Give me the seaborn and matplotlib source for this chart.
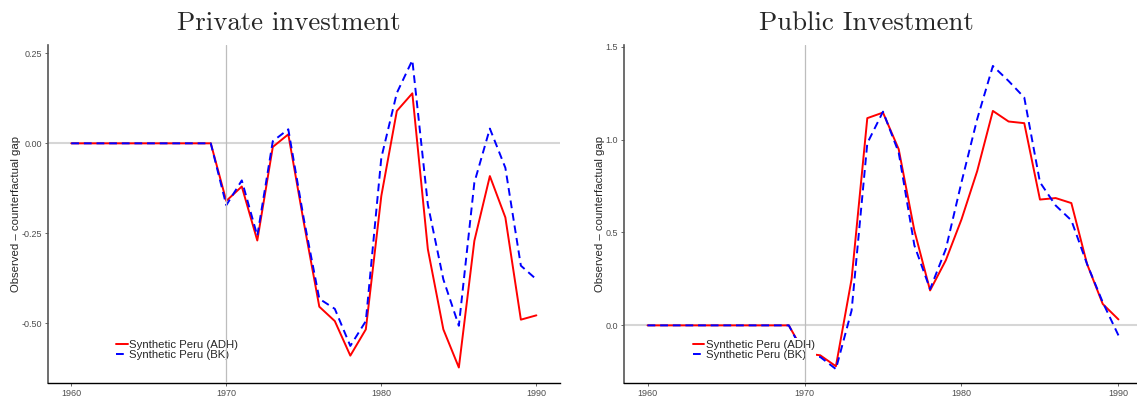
import pandas as pd
import matplotlib
matplotlib.use('Agg')
import matplotlib.pyplot as plt
import seaborn as sns

# years of the gap series
years = list(range(1960, 1991))

# private investment gap (left panel)
priv_adh = [0] * 10 + [-0.16, -0.12, -0.27, -0.01, 0.025, -0.22, -0.454, -0.494, -0.59, -0.517,
                       -0.146, 0.09, 0.139, -0.294, -0.517, -0.623, -0.271, -0.091, -0.206, -0.49, -0.478]
priv_bk = [0] * 10 + [-0.172, -0.103, -0.257, 0.006, 0.039, -0.21, -0.432, -0.46, -0.563, -0.494,
                      -0.04, 0.14, 0.231, -0.17, -0.378, -0.507, -0.109, 0.041, -0.068, -0.34, -0.378]

# public investment gap (right panel)
pub_adh = [0] * 10 + [-0.15, -0.161, -0.22, 0.249, 1.115, 1.145, 0.948, 0.51, 0.188, 0.35,
                      0.57, 0.83, 1.154, 1.097, 1.088, 0.677, 0.685, 0.658, 0.33, 0.115, 0.032]
pub_bk = [0] * 10 + [-0.16, -0.17, -0.235, 0.08, 0.98, 1.15, 0.93, 0.43, 0.195, 0.41,
                     0.77, 1.11, 1.396, 1.315, 1.226, 0.77, 0.645, 0.565, 0.33, 0.124, -0.054]

labels = ['Synthetic Peru (ADH)', 'Synthetic Peru (BK)']
titles = ['Private investment', 'Public Investment']

sns.set_style('white')
plt.rcParams['font.family'] = ['Liberation Sans', 'DejaVu Sans']
plt.rcParams['axes.unicode_minus'] = False


def make_df(adh, bk):
    return pd.DataFrame({
        'year': years * 2,
        'gap': adh + bk,
        'series': [labels[0]] * len(years) + [labels[1]] * len(years),
    })


fig = plt.figure(figsize=(11.37, 3.97), dpi=100)
ax1 = fig.add_axes([0.0422, 0.0353, 0.450, 0.852])
ax2 = fig.add_axes([0.5488, 0.0353, 0.4556, 0.852])

panels = [
    (ax1, make_df(priv_adh, priv_bk), (-0.666, 0.274), [0.25, 0.0, -0.25, -0.5],
     ['0.25', '0.00', '-0.25', '-0.50'], -0.053, 0.2537),
    (ax2, make_df(pub_adh, pub_bk), (-0.31, 1.51), [0.0, 0.5, 1.0, 1.5],
     ['0.0', '0.5', '1.0', '1.5'], -0.037, 0.762),
]

for i, (ax, df, ylim, yt, ytl, labx, titx) in enumerate(panels):
    ax.axhline(0, color='#d6d6d6', lw=1.5, zorder=1)
    # 1970 reference line stays visible through the legend, as in the original
    ax.axvline(1970, color='#bdbdbd', lw=0.9, zorder=6)
    sns.lineplot(data=df, x='year', y='gap', hue='series', style='series',
                 palette={labels[0]: '#ff0000', labels[1]: '#0000ff'},
                 dashes={labels[0]: '', labels[1]: (4, 2.5)},
                 linewidth=1.4, ax=ax, zorder=2)
    ax.set_xlim(1958.5, 1991.5)
    ax.set_ylim(*ylim)
    ax.set_xticks([1960, 1970, 1980, 1990])
    ax.set_yticks(yt)
    ax.set_yticklabels(ytl)
    ax.tick_params(axis='both', labelsize=6.5, labelcolor='#4d4d4d', colors='#4d4d4d',
                   length=2.5, width=0.6, pad=2, left=True, bottom=True)
    for s in ['top', 'right']:
        ax.spines[s].set_visible(False)
    ax.spines['left'].set_color('#555555')
    ax.spines['left'].set_linewidth(1.2)
    ax.spines['bottom'].set_color('black')
    ax.spines['bottom'].set_linewidth(1.0)
    ax.set_xlabel('')
    ax.set_ylabel('Observed \u2013 counterfactual gap', fontsize=8.2)
    ax.yaxis.set_label_coords(labx, 0.5)
    fig.text(titx, 0.9244, titles[i], fontfamily='cmr10', fontsize=19.3,
             ha='center', va='baseline')
    handles, labs = ax.get_legend_handles_labels()
    ax.legend(handles, labs, loc='center left', bbox_to_anchor=(0.119, 0.0985),
              fontsize=8.2, handlelength=1.0, handletextpad=0.1, labelspacing=0.0,
              borderpad=0.15, frameon=True, framealpha=1, facecolor='white',
              edgecolor='none', fancybox=False)

fig.savefig('out.png', dpi=100)
